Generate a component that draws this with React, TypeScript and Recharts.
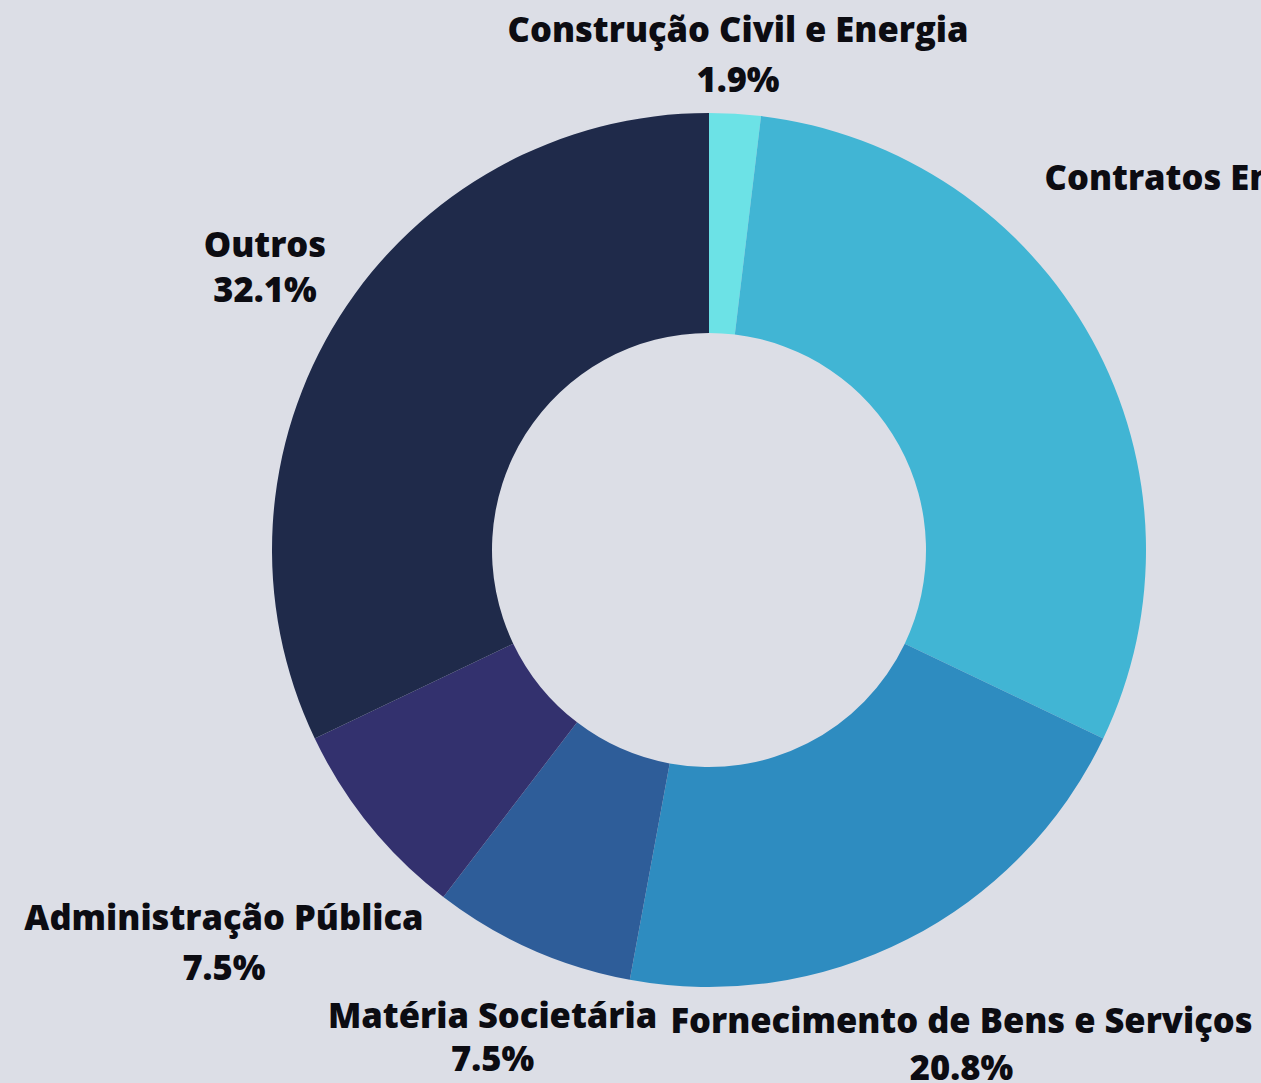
import React from 'react';
import { PieChart, Pie, Cell } from 'recharts';

const categories = [
  'Construção Civil e Energia',
  'Contratos Empresariais',
  'Fornecimento de Bens e Serviços',
  'Matéria Societária',
  'Administração Pública',
  'Outros',
];
const shares = [1.9, 30.2, 20.8, 7.5, 7.5, 32.1];
const sliceColors = ['#6ce2e6', '#41b5d4', '#2e8cc0', '#2e5d99', '#33316e', '#1f2a4a'];

// label placement tweaks relative to each slice's mid angle (degrees clockwise) and outer radius
const labelNudge = [
  { dA: -0.15, dR: 72, gap: 50, inline: false },
  { dA: -18.2, dR: 55, gap: 50, inline: true },
  { dA: -0.6, dR: 108, gap: 47, inline: false },
  { dA: 0.4, dR: 88, gap: 43, inline: false },
  { dA: 1.0, dR: 179, gap: 50, inline: false },
  { dA: 1.2, dR: 95, gap: 45, inline: false },
];

const data = categories.map((name, i) => ({ name, value: shares[i] }));

const FONT = "'Open Sans', 'Noto Sans', sans-serif";
const TEXT_COLOR = '#0c0c12';
const FONT_SIZE = 34.5;

const renderLabel = (props: any) => {
  const { cx, cy, midAngle, outerRadius, index, name, value } = props;
  const nudge = labelNudge[index];
  const theta = ((90 - midAngle + nudge.dA) * Math.PI) / 180;
  const r = outerRadius + nudge.dR;
  const x = cx + r * Math.sin(theta);
  const y = cy - r * Math.cos(theta);
  const pct = `${Number(value).toFixed(1)}%`;
  if (nudge.inline) {
    return (
      <text x={x} y={y} textAnchor="start" fill={TEXT_COLOR} fontFamily={FONT} fontWeight={800} fontSize={FONT_SIZE}>
        {`${name} ${pct}`}
      </text>
    );
  }
  return (
    <g>
      <text x={x} y={y} textAnchor="middle" fill={TEXT_COLOR} fontFamily={FONT} fontWeight={800} fontSize={FONT_SIZE}>
        {name}
      </text>
      <text x={x} y={y + nudge.gap} textAnchor="middle" fill={TEXT_COLOR} fontFamily={FONT} fontWeight={800} fontSize={FONT_SIZE}>
        {pct}
      </text>
    </g>
  );
};

export default function App() {
  return (
    <div
      style={{
        position: 'fixed',
        left: 0,
        top: 0,
        width: 1261,
        height: 1083,
        background: '#dcdee6',
        overflow: 'hidden',
      }}
    >
      <PieChart width={1261} height={1083} margin={{ top: 0, right: 0, bottom: 0, left: 0 }}>
        <Pie
          data={data}
          dataKey="value"
          nameKey="name"
          cx={709}
          cy={550}
          innerRadius={217}
          outerRadius={437}
          startAngle={90}
          endAngle={-270}
          stroke="none"
          label={renderLabel}
          labelLine={false}
          isAnimationActive={false}
        >
          {data.map((d, i) => (
            <Cell key={d.name} fill={sliceColors[i]} />
          ))}
        </Pie>
      </PieChart>
    </div>
  );
}
